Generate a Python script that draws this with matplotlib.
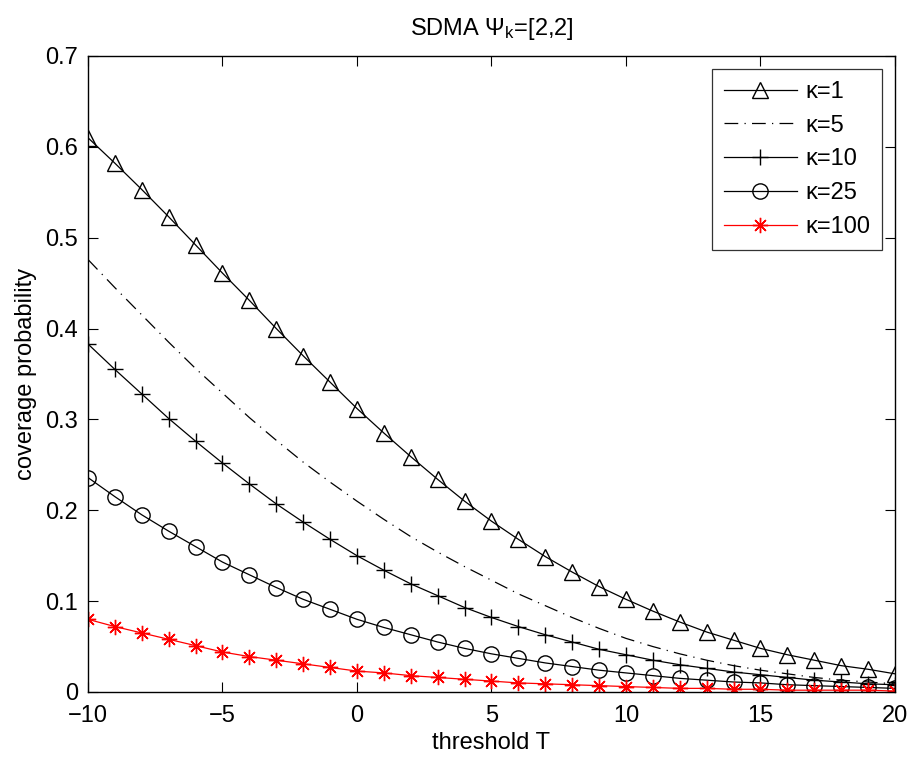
import numpy as np
import matplotlib
matplotlib.use("Agg")
import matplotlib.pyplot as plt

plt.rcParams['font.family'] = ['Liberation Sans', 'DejaVu Sans']
plt.rcParams['mathtext.fontset'] = 'custom'
plt.rcParams['mathtext.rm'] = 'Liberation Sans'
plt.rcParams['mathtext.it'] = 'Liberation Sans'

# threshold T (dB)
T = list(range(-10, 21))

# coverage probability per kappa
k1 = [0.610, 0.582, 0.553, 0.523, 0.492, 0.461, 0.431, 0.400, 0.370, 0.341,
      0.312, 0.285, 0.259, 0.234, 0.210, 0.188, 0.168, 0.149, 0.132, 0.116,
      0.102, 0.089, 0.077, 0.066, 0.057, 0.048, 0.041, 0.035, 0.029, 0.025, 0.020]
k5 = [0.476, 0.445, 0.415, 0.385, 0.356, 0.329, 0.302, 0.277, 0.253, 0.231,
      0.210, 0.190, 0.171, 0.154, 0.138, 0.123, 0.108, 0.095, 0.082, 0.070,
      0.059, 0.050, 0.042, 0.035, 0.029, 0.024, 0.020, 0.016, 0.013, 0.011, 0.009]
k10 = [0.383, 0.355, 0.328, 0.301, 0.276, 0.252, 0.229, 0.207, 0.187, 0.168,
       0.150, 0.134, 0.119, 0.106, 0.093, 0.082, 0.072, 0.063, 0.055, 0.047,
       0.041, 0.035, 0.030, 0.026, 0.022, 0.019, 0.016, 0.013, 0.011, 0.009, 0.008]
k25 = [0.236, 0.215, 0.195, 0.177, 0.160, 0.143, 0.129, 0.115, 0.102, 0.091,
       0.080, 0.071, 0.063, 0.055, 0.048, 0.042, 0.037, 0.032, 0.028, 0.024,
       0.021, 0.018, 0.015, 0.013, 0.011, 0.010, 0.008, 0.007, 0.006, 0.005, 0.004]
k100 = [0.080, 0.072, 0.065, 0.058, 0.051, 0.044, 0.039, 0.035, 0.031, 0.027,
        0.023, 0.021, 0.018, 0.016, 0.014, 0.012, 0.010, 0.009, 0.008, 0.007,
        0.006, 0.005, 0.004, 0.004, 0.003, 0.003, 0.002, 0.002, 0.002, 0.002, 0.001]

fig = plt.figure(figsize=(9.12, 7.63), dpi=100)
ax = fig.add_axes([88/912, 71/763, 807/912, 636/763])

ms = 11
ax.plot(T, k1, color='k', lw=0.9, marker='^', ms=ms, mfc='none', mew=1.0, label='κ=1')
ax.plot(T, k5, color='k', lw=0.9, ls=(0, (11, 5, 1, 5)), label='κ=5')
ax.plot(T, k10, color='k', lw=0.9, marker='+', ms=ms + 1, mew=1.0, label='κ=10')
ax.plot(T, k25, color='k', lw=0.9, marker='o', ms=ms, mfc='none', mew=1.0, label='κ=25')
ax.plot(T, k100, color='red', lw=0.9, marker=(8, 2, 0), ms=ms, mew=1.0, label='κ=100')

ax.set_xlim(-10, 20)
ax.set_ylim(0, 0.7)
ax.set_xticks([-10, -5, 0, 5, 10, 15, 20])
ax.set_xticklabels(['\u221210', '\u22125', '0', '5', '10', '15', '20'])
ax.set_yticks(np.arange(0, 0.71, 0.1))
ax.set_yticklabels(['0', '0.1', '0.2', '0.3', '0.4', '0.5', '0.6', '0.7'])
ax.tick_params(direction='in', length=7, width=0.8, labelsize=17,
               top=True, right=True)
ax.tick_params(axis='x', pad=9)
ax.tick_params(axis='y', pad=7)
for s in ax.spines.values():
    s.set_linewidth(1.0)

ax.set_title('SDMA $\\Psi_{\\mathrm{k}}$=[2,2]', fontsize=17, pad=15)
ax.set_xlabel('threshold T', fontsize=17, labelpad=4)
ax.set_ylabel('coverage probability', fontsize=17, labelpad=6)

leg = ax.legend(loc='upper right', fontsize=17, handlelength=3.1, frameon=True,
                fancybox=False, edgecolor='k', borderpad=0.5, labelspacing=0.5,
                handletextpad=0.35, borderaxespad=0.55)
leg.get_frame().set_linewidth(0.9)

fig.savefig('out.png', dpi=100, facecolor='white')
